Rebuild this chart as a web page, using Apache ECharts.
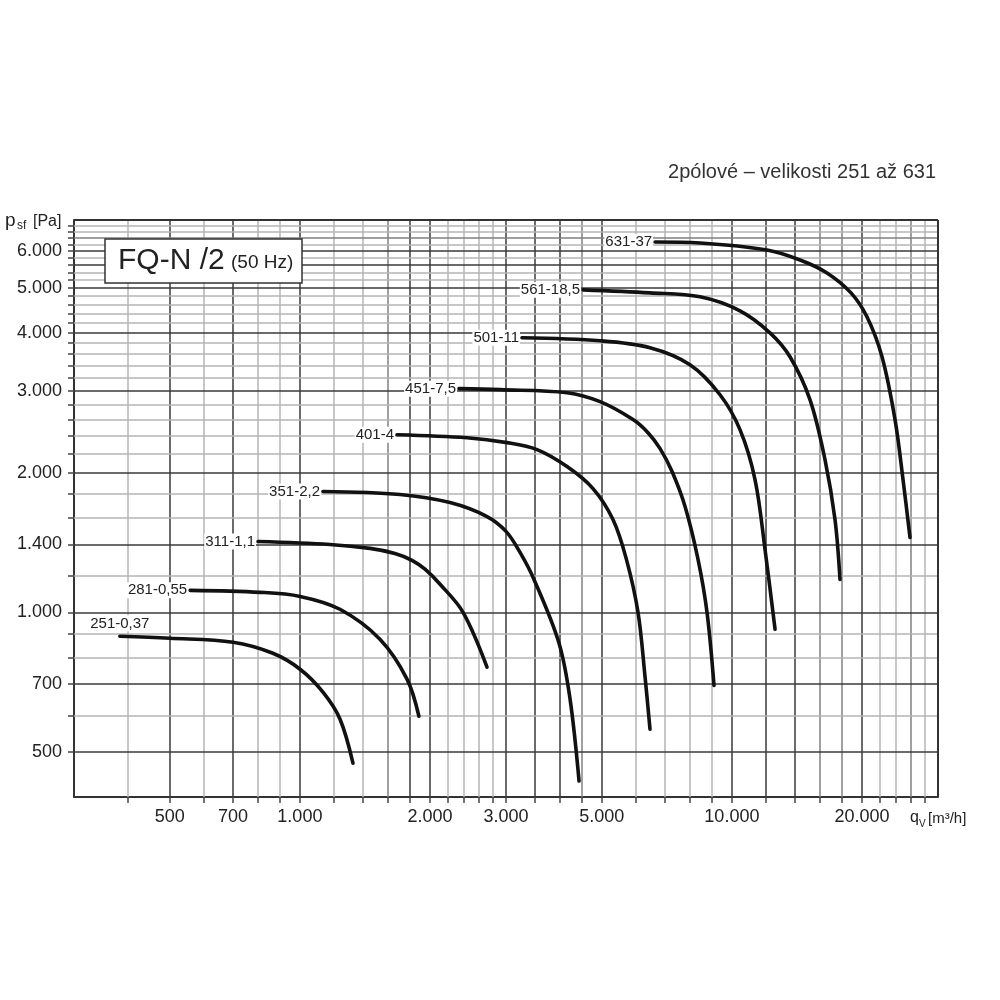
<!DOCTYPE html>
<html>
<head>
<meta charset="utf-8">
<script src="https://cdn.jsdelivr.net/npm/echarts@6/dist/echarts.min.js"></script>
<style>html,body{margin:0;padding:0;background:#fff}#c{width:1000px;height:1000px}</style>
</head>
<body>
<div id="c"></div>
<script>
// ---- data (flow q [m3/h], pressure p [Pa]) ----
const names = ['251-0,37','281-0,55','311-1,1','351-2,2','401-4','451-7,5','501-11','561-18,5','631-37'];
const s251 = [[383,888],[500,879],[700,862],[866,816],[1001,754],[1131,673],[1238,589],[1327,473]];
const s281 = [[557,1115],[809,1104],[1001,1082],[1238,1015],[1532,875],[1770,718],[1886,597]];
const s311 = [[800,1421],[1174,1400],[1453,1373],[1660,1339],[1818,1294],[1948,1238],[2111,1149],[2386,1000],[2711,762]];
const s351 = [[1131,1821],[1705,1794],[2226,1723],[2711,1608],[3000,1494],[3233,1346],[3483,1177],[3980,858],[4221,650],[4428,433]];
const s401 = [[1678,2413],[2437,2377],[3016,2320],[3539,2241],[4153,2060],[4770,1847],[5306,1584],[5700,1300],[6063,1000],[6293,728],[6463,560]];
const s451 = [[2335,3032],[2906,3017],[4153,2972],[4953,2843],[5904,2601],[6395,2437],[6820,2252],[7270,2010],[7791,1690],[8349,1300],[8758,1000],[9090,696]];
const s501 = [[3267,3903],[4953,3846],[6463,3715],[7999,3414],[9387,2942],[10441,2474],[11312,1932],[11932,1366],[12587,919]];
const s561 = [[4523,4950],[6463,4876],[8439,4781],[10441,4461],[12252,4000],[13629,3552],[15161,2871],[16425,2133],[17326,1584],[17793,1177]];
const s631 = [[6640,6278],[8439,6247],[12061,6033],[14380,5741],[16603,5384],[18868,4876],[20543,4330],[22259,3552],[23858,2601],[24897,1932],[25842,1449]];
const curves = [s251,s281,s311,s351,s401,s451,s501,s561,s631];

const xLabels = [500,700,1000,2000,3000,5000,10000,20000];
const yLabels = [500,700,1000,1400,2000,3000,4000,5000,6000];
const xGridVals = [400,500,600,700,800,900,1000,1200,1400,1600,1800,2000,2200,2400,2600,2800,3000,3500,4000,4500,5000,6000,7000,8000,9000,10000,12000,14000,16000,18000,20000,22000,24000,26000,28000];
const yGridVals = [500,600,700,800,900,1000,1200,1400,1600,1800,2000,2200,2400,2600,2800,3000,3200,3400,3600,3800,4000,4200,4400,4600,4800,5000,5200,5400,5600,5800,6000,6200,6400,6600,6800];
const xMajor = [500,700,1000,1800,2000,3000,3500,4000,5000,10000,12000,14000,20000];
const xMedium = [1600,4500,16000,18000,26000];
const yMajor = [500,700,1000,1400,2000,3000,4000,5000,5600,6000];
const yMedium = [6400];
const xRange = [300,30000];
const yRange = [400,7000];

const FONT = "'Liberation Sans', Arial, Helvetica, sans-serif";
const fmt = v => String(Math.round(v)).replace(/\B(?=(\d{3})+(?!\d))/g, '.');

function gridStyle(v, major, medium){
  if (major.indexOf(v) >= 0) return {color:'#3a3a3a', width:1.5, type:'solid'};
  if (medium.indexOf(v) >= 0) return {color:'#808080', width:1.5, type:'solid'};
  return {color:'#b4b4b4', width:1.5, type:'solid'};
}
const gridLines = [];
xGridVals.forEach(v => gridLines.push({xAxis:v, lineStyle:gridStyle(v,xMajor,xMedium)}));
yGridVals.forEach(v => gridLines.push({yAxis:v, lineStyle:gridStyle(v,yMajor,yMedium)}));
gridLines.push({xAxis:xRange[1], lineStyle:{color:'#333', width:2, type:'solid'}});
gridLines.push({yAxis:yRange[1], lineStyle:{color:'#333', width:2, type:'solid'}});

const series = [{
  type:'line', data:[], silent:true, z:1,
  markLine:{silent:true, symbol:['none','none'], label:{show:false}, animation:false, emphasis:{disabled:true}, data:gridLines}
}];
curves.forEach((c, i) => {
  const first = i === 0;
  series.push({
    type:'line', name:names[i], z:5, silent:true, smooth:0.35,
    showSymbol:true, symbol:'circle', symbolSize:0,
    lineStyle:{color:'#111', width:3.6, cap:'round', join:'round'},
    itemStyle:{color:'#111'},
    label:{show:false},
    emphasis:{disabled:true},
    data: c.map((p, k) => k === 0 ? {
      value:p,
      label:{show:true, position: first ? 'top' : 'left', distance: first ? 5 : 2,
        formatter:names[i], fontSize:15, fontFamily:FONT, color:'#222',
        backgroundColor:'#fff', padding:[1,1,0,1]}
    } : {value:p})
  });
});

const chart = echarts.init(document.getElementById('c'), null, {renderer:'canvas'});
chart.setOption({
  animation:false,
  backgroundColor:'#fff',
  grid:{left:74, right:62, top:220, bottom:203, containLabel:false},
  xAxis:{
    type:'log', logBase:10, min:xRange[0], max:xRange[1],
    axisLine:{show:true, onZero:false, lineStyle:{color:'#333', width:2}},
    axisTick:{show:true, customValues:xGridVals, length:6, inside:false, lineStyle:{color:'#444', width:1.5}},
    axisLabel:{show:true, customValues:xLabels, formatter:fmt, fontSize:18, fontFamily:FONT, color:'#222', margin:11},
    splitLine:{show:false}, minorTick:{show:false}, minorSplitLine:{show:false}
  },
  yAxis:{
    type:'log', logBase:10, min:yRange[0], max:yRange[1],
    axisLine:{show:true, onZero:false, lineStyle:{color:'#333', width:2}},
    axisTick:{show:true, customValues:yGridVals, length:6, inside:false, lineStyle:{color:'#444', width:1.5}},
    axisLabel:{show:true, customValues:yLabels, formatter:fmt, fontSize:18, fontFamily:FONT, color:'#222', margin:12},
    splitLine:{show:false}, minorTick:{show:false}, minorSplitLine:{show:false}
  },
  graphic:[
    {type:'rect', z:100, shape:{x:105, y:239, width:197, height:44}, style:{fill:'#fff', stroke:'#333', lineWidth:1.5}},
    {type:'text', z:101, x:118, y:261, style:{text:'FQ-N /2', fontSize:30, fontFamily:FONT, fill:'#222', align:'left', verticalAlign:'middle', textAlign:'left', textVerticalAlign:'middle'}},
    {type:'text', z:101, x:231, y:263, style:{text:'(50 Hz)', fontSize:19, fontFamily:FONT, fill:'#222', align:'left', verticalAlign:'middle', textAlign:'left', textVerticalAlign:'middle'}},
    {type:'text', z:101, x:936, y:172, style:{text:'2pólové – velikosti 251 až 631', fontSize:20, fontFamily:FONT, fill:'#333', align:'right', verticalAlign:'middle', textAlign:'right', textVerticalAlign:'middle'}},
    // y-axis name: p_sf [Pa]
    {type:'text', z:101, x:5, y:221, style:{text:'p', fontSize:19, fontFamily:FONT, fill:'#222', align:'left', verticalAlign:'middle', textAlign:'left', textVerticalAlign:'middle'}},
    {type:'text', z:101, x:17, y:226, style:{text:'sf', fontSize:12, fontFamily:FONT, fill:'#222', align:'left', verticalAlign:'middle', textAlign:'left', textVerticalAlign:'middle'}},
    {type:'text', z:101, x:33, y:222, style:{text:'[Pa]', fontSize:16, fontFamily:FONT, fill:'#222', align:'left', verticalAlign:'middle', textAlign:'left', textVerticalAlign:'middle'}},
    // x-axis name: q_V [m³/h]
    {type:'text', z:101, x:910, y:818, style:{text:'q', fontSize:16, fontFamily:FONT, fill:'#222', align:'left', verticalAlign:'middle', textAlign:'left', textVerticalAlign:'middle'}},
    {type:'text', z:101, x:919, y:824, style:{text:'V', fontSize:10, fontFamily:FONT, fill:'#222', align:'left', verticalAlign:'middle', textAlign:'left', textVerticalAlign:'middle'}},
    {type:'text', z:101, x:928, y:819, style:{text:'[m³/h]', fontSize:15, fontFamily:FONT, fill:'#222', align:'left', verticalAlign:'middle', textAlign:'left', textVerticalAlign:'middle'}}
  ],
  series: series
});
</script>
</body>
</html>
